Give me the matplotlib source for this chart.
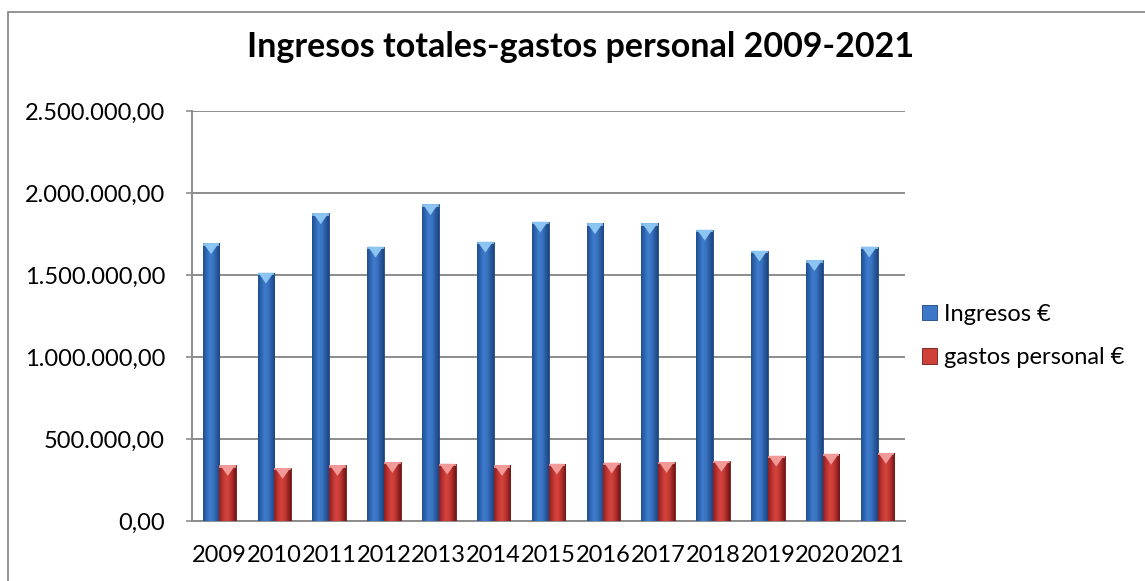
import matplotlib
matplotlib.use("Agg")
import matplotlib.pyplot as plt
import numpy as np
from matplotlib.colors import LinearSegmentedColormap
from matplotlib.patches import Rectangle, Polygon
from matplotlib.ticker import FuncFormatter, MultipleLocator

years = ["2009", "2010", "2011", "2012", "2013", "2014", "2015",
         "2016", "2017", "2018", "2019", "2020", "2021"]
ingresos = [1693000, 1514000, 1876000, 1673000, 1931000, 1703000, 1825000,
            1815000, 1815000, 1776000, 1648000, 1590000, 1673000]
gastos = [341000, 323000, 341000, 360000, 349000, 341000, 349000,
          356000, 360000, 366000, 398000, 410000, 415000]
series_labels = ["Ingresos €", "gastos personal €"]
title = "Ingresos totales-gastos personal 2009-2021"

FONT = "Lato"
plt.rcParams["font.family"] = [FONT, "DejaVu Sans"]

W, H = 1145, 581
fig = plt.figure(figsize=(W / 100, H / 100), dpi=100)

# outer chart border (cropped on right / bottom)
fig.patches.append(Rectangle((7.5 / W, -0.05), 1.2, 1 - 12.5 / H + 0.05,
                             transform=fig.transFigure, fill=False,
                             edgecolor="#8a8a8a", linewidth=1.3))

ax = fig.add_axes([192 / W, 1 - 521 / H, (905 - 192) / W, (521 - 111) / H])
ax.set_xlim(-0.5, len(years) - 0.5)
ax.set_ylim(0, 2500000)

bw = 0.305
x = np.arange(len(years))

blue_cmap = LinearSegmentedColormap.from_list(
    "b", ["#1f4d8c", "#2f66b3", "#3f7ccc", "#3a74c2", "#2a5ca3", "#1d4580"])
red_cmap = LinearSegmentedColormap.from_list(
    "r", ["#8c1f1f", "#b93030", "#d2443c", "#cc3d36", "#a82a2a", "#6e1616"])
grad = np.linspace(0, 1, 64).reshape(1, -1)

def draw_series(xpos, vals, cmap, top_color, edge, label):
    bars = ax.bar(xpos, vals, width=bw, color=cmap(0.5), edgecolor=edge,
                  linewidth=0.6, zorder=3, label=label)
    ymax = ax.get_ylim()[1]
    d = ymax * 0.012
    for b in bars:
        x0, w, h = b.get_x(), b.get_width(), b.get_height()
        im = ax.imshow(grad, cmap=cmap, extent=[x0, x0 + w, 0, h],
                       aspect="auto", zorder=4, interpolation="bicubic")
        im.set_clip_path(b)
        tri = Polygon([(x0 + w * 0.04, h), (x0 + w * 0.96, h),
                       (x0 + w / 2, h - 2.2 * d)], closed=True,
                      facecolor=top_color, edgecolor="none", zorder=5)
        ax.add_patch(tri)
        ax.add_patch(Rectangle((x0, h - d * 0.5), w, d * 0.5,
                               facecolor=top_color, edgecolor="none",
                               zorder=5, alpha=0.8))
    return bars

draw_series(x - bw / 2, ingresos, blue_cmap, "#8cc4f2", "#1d4580", series_labels[0])
draw_series(x + bw / 2, gastos, red_cmap, "#f29a9a", "#6e1616", series_labels[1])
ax.set_xlim(-0.5, len(years) - 0.5)
ax.set_ylim(0, 2500000)

ax.yaxis.set_major_locator(MultipleLocator(500000))
def fmt(v, pos):
    s = f"{v:,.2f}"
    return s.replace(",", "X").replace(".", ",").replace("X", ".")
ax.yaxis.set_major_formatter(FuncFormatter(fmt))
ax.set_xticks(x)
ax.set_xticklabels(years)

ax.grid(axis="y", color="#8c8c8c", linewidth=1.4, zorder=0)
ax.set_axisbelow(True)
for s in ["top", "right"]:
    ax.spines[s].set_visible(False)
for s in ["left", "bottom"]:
    ax.spines[s].set_color("#8c8c8c")
    ax.spines[s].set_linewidth(1.4)
ax.tick_params(axis="y", length=4, color="#8c8c8c", width=1.2, pad=15.5,
               labelsize=17, labelcolor="black")
ax.tick_params(axis="x", length=0, pad=17, labelsize=17, labelcolor="black")

fig.text(581 / W, 1 - 47 / H, title, ha="center", va="center",
         fontsize=24.5, fontweight="bold", color="black")

leg = ax.legend(loc="center left", bbox_to_anchor=(910 / W, 1 - 336 / H),
                bbox_transform=fig.transFigure, frameon=False,
                handlelength=0.65, handleheight=0.65, handletextpad=0.3,
                labelspacing=0.95, fontsize=17, borderpad=0)

fig.savefig("out.png", dpi=100)
